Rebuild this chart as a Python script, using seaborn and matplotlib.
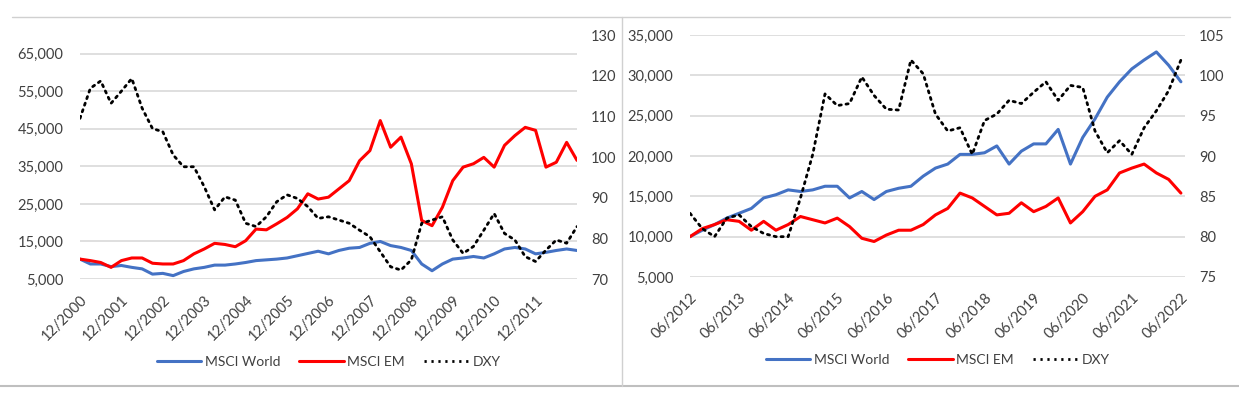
import seaborn as sns
import pandas as pd
import numpy as np
import matplotlib.pyplot as plt
from matplotlib.lines import Line2D

# ---- data (quarterly readings) ----
# left panel: months since 12/2000
left_ticks = ['12/2000', '12/2001', '12/2002', '12/2003', '12/2004', '12/2005',
              '12/2006', '12/2007', '12/2008', '12/2009', '12/2010', '12/2011']
left_world = [10300, 9000, 9000, 8300, 8600, 8100, 7700, 6300, 6500, 5900, 7000, 7700,
              8100, 8700, 8700, 9000, 9400, 9900, 10100, 10300, 10600, 11200, 11800, 12400,
              11700, 12600, 13200, 13400, 14500, 15000, 13900, 13400, 12600, 9000, 7200, 9000,
              10300, 10600, 11000, 10600, 11700, 13000, 13400, 13000, 11700, 12100, 12600, 13000,
              12600]
left_em = [10300, 9900, 9400, 8100, 9900, 10600, 10600, 9200, 9000, 9000, 9900, 11700,
           13000, 14500, 14200, 13600, 15200, 18300, 18100, 19700, 21400, 23700, 27700, 26300,
           26800, 29000, 31200, 36500, 39200, 47200, 40100, 42800, 35700, 20600, 19200, 24100,
           31200, 34800, 35700, 37400, 34800, 40600, 43200, 45400, 44600, 34800, 36100, 41400,
           36600]
left_dxy = [109.5, 116.9, 118.7, 113.2, 116.2, 119.3, 112.0, 107.0, 106.2, 100.5, 97.6, 97.6,
            92.7, 87.0, 90.2, 89.4, 83.7, 82.9, 85.3, 89.0, 90.7, 89.8, 87.8, 84.9,
            85.3, 84.5, 83.7, 82.0, 80.4, 76.7, 73.0, 72.2, 74.7, 83.7, 84.5, 85.3,
            79.6, 76.3, 78.0, 82.0, 86.1, 81.2, 79.6, 75.5, 74.3, 77.1, 79.6, 78.8,
            82.9]

# right panel: months since 06/2012
right_ticks = ['06/2012', '06/2013', '06/2014', '06/2015', '06/2016', '06/2017',
               '06/2018', '06/2019', '06/2020', '06/2021', '06/2022']
right_world = [10000, 10800, 11500, 12300, 12900, 13500, 14800, 15200, 15800, 15600, 15800,
               16250, 16250, 14800, 15600, 14600, 15600, 16000, 16250, 17500, 18500,
               19000, 20200, 20200, 20400, 21250, 19000, 20600, 21500, 21500, 23300,
               19000, 22300, 24600, 27300, 29200, 30800, 31900, 32900, 31250, 29200]
right_em = [10000, 11000, 11500, 12100, 11900, 10800, 11900, 10800, 11500, 12500, 12100,
            11700, 12300, 11250, 9800, 9400, 10200, 10800, 10800, 11500, 12700,
            13500, 15400, 14800, 13750, 12700, 12900, 14200, 13100, 13750, 14800,
            11700, 13100, 15000, 15800, 17900, 18500, 19000, 17900, 17100, 15400]
right_dxy = [82.9, 81.0, 80.0, 82.3, 82.7, 81.25, 80.4, 80.0, 80.0, 84.8, 90.2,
             97.7, 96.25, 96.5, 99.8, 97.5, 95.8, 95.7, 101.9, 100.2, 95.2,
             93.1, 93.5, 90.2, 94.4, 95.2, 96.9, 96.5, 97.9, 99.2, 96.9,
             98.75, 98.5, 93.1, 90.4, 91.9, 90.2, 93.5, 95.6, 98.1, 101.9]

BLUE = '#4472C4'
RED = '#FF0000'
TXT = '#404040'
GRID = '#D9D9D9'
DOTS = (0, (0.8, 1.7))

sns.set_style('white')
plt.rcParams['font.family'] = ['Lato', 'DejaVu Sans']
plt.rcParams['font.size'] = 10

fig = plt.figure(figsize=(12.39, 3.94), dpi=100)
W, H = 1239, 394


def frame(px_left, px_top, px_right, px_bottom):
    return [px_left / W, 1 - px_bottom / H, (px_right - px_left) / W, (px_bottom - px_top) / H]


def panel(rect, df, ylim, yticks, y2lim, y2ticks, xticks, xlabels, xmax):
    ax = fig.add_axes(rect)
    ax2 = ax.twinx()
    sns.lineplot(data=df, x='m', y='world', ax=ax, color=BLUE, lw=2.2)
    sns.lineplot(data=df, x='m', y='em', ax=ax, color=RED, lw=2.2)
    sns.lineplot(data=df, x='m', y='dxy', ax=ax2, color='black', lw=2.0,
                 linestyle=DOTS, dash_capstyle='round')
    ax.set_xlim(0, xmax)
    ax.set_ylim(*ylim)
    ax.set_yticks(yticks)
    ax.set_yticklabels([f'{v:,}' for v in yticks])
    ax2.set_ylim(*y2lim)
    ax2.set_yticks(y2ticks)
    ax.set_xticks(xticks)
    ax.set_xticklabels(xlabels, rotation=45, ha='right', rotation_mode='anchor')
    ax.grid(axis='y', color=GRID, lw=1.2)
    ax.set_axisbelow(True)
    for a in (ax, ax2):
        for s in a.spines.values():
            s.set_visible(False)
        a.set_xlabel('')
        a.set_ylabel('')
        a.tick_params(length=0, colors=TXT, labelsize=10.5)
    ax.tick_params(axis='y', pad=12)
    ax.tick_params(axis='x', pad=10)
    ax2.tick_params(axis='y', pad=10)
    handles = [Line2D([0], [0], color=BLUE, lw=2.2),
               Line2D([0], [0], color=RED, lw=2.2),
               Line2D([0], [0], color='black', lw=2.0, linestyle=DOTS)]
    leg = ax.legend(handles, ['MSCI World', 'MSCI EM', 'DXY'], loc='upper center',
                    bbox_to_anchor=(0.5, -0.265), ncol=3, frameon=False,
                    handlelength=3.2, columnspacing=1.4, handletextpad=0.25,
                    fontsize=10)
    for t in leg.get_texts():
        t.set_color(TXT)
    return ax


left_df = pd.DataFrame({'m': np.arange(len(left_world)) * 3,
                        'world': left_world, 'em': left_em, 'dxy': left_dxy})
right_df = pd.DataFrame({'m': np.arange(len(right_world)) * 3,
                         'world': right_world, 'em': right_em, 'dxy': right_dxy})

panel(frame(80, 35, 577, 279), left_df, (5000, 70000), list(range(5000, 70000, 10000)),
      (70, 130), list(range(70, 131, 10)), list(range(0, 133, 12)), left_ticks, 144)
panel(frame(690, 35, 1185, 277), right_df, (5000, 35000), list(range(5000, 35001, 5000)),
      (75, 105), list(range(75, 106, 5)), list(range(0, 121, 12)), right_ticks, 121)

# chart borders
border = '#D0D0D0'
fig.add_artist(Line2D([12 / W, 1230 / W], [1 - 17 / H, 1 - 17 / H], color=border, lw=1))
fig.add_artist(Line2D([0, 1], [1 - 386 / H, 1 - 386 / H], color='#BFBFBF', lw=1.5))
fig.add_artist(Line2D([622 / W, 622 / W], [1 - 17 / H, 1 - 386 / H], color=border, lw=1))

fig.savefig('out.png', dpi=100, facecolor='white')
